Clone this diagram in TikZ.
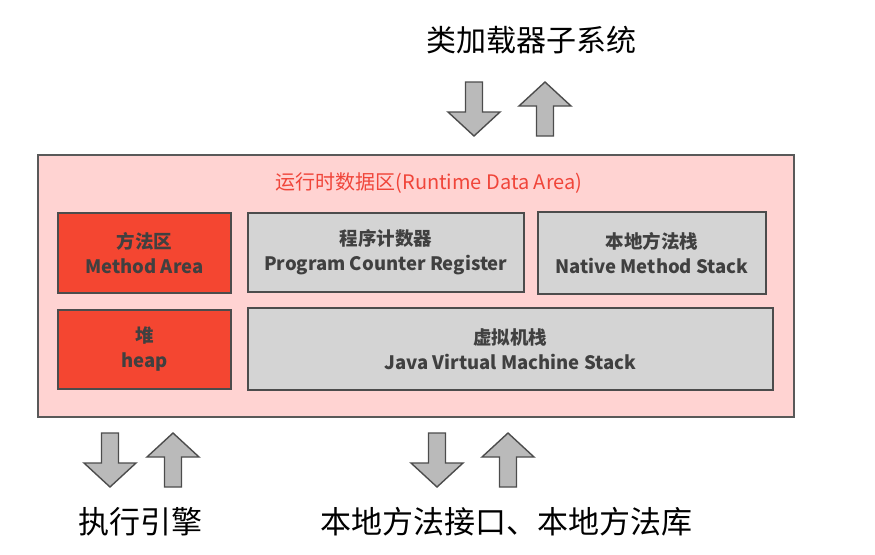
\documentclass[tikz,border=0pt]{standalone}
\usepackage{fontspec}
\setmainfont{Noto Sans CJK SC}
\usetikzlibrary{positioning}
\definecolor{rdapink}{HTML}{FFD3D2}
\definecolor{rdared}{HTML}{F44631}
\definecolor{rdagray}{HTML}{D4D4D4}
\definecolor{rdatitle}{HTML}{F0453A}
\definecolor{rdatext}{HTML}{404040}
\tikzset{
  areabox/.style={draw=black!70, line width=1.6pt, anchor=north west, align=center,
    inner sep=0pt, text=rdatext, font=\fontsize{18.5}{25}\selectfont\bfseries},
  redbox/.style={areabox, fill=rdared},
  graybox/.style={areabox, fill=rdagray},
  bigarrow/.style={draw=black!70, fill=black!27, line width=1.4pt, line join=miter},
  biglabel/.style={font=\fontsize{30}{34}\selectfont, text=black}
}
\begin{document}
\begin{tikzpicture}[x=1pt,y=-1pt]
\useasboundingbox (0,0) rectangle (875,554);
% runtime data area
\node[draw=black!65, line width=1.6pt, fill=rdapink, anchor=north west,
  minimum width=756pt, minimum height=262pt, inner sep=0pt] (rda) at (37,154) {};
\node[text=rdatitle, font=\fontsize{20}{24}\selectfont] (title) at (429,183) {运行时数据区(Runtime Data Area)};
\node[redbox, minimum width=173pt, minimum height=80pt] (method) at (57,212) {方法区\\Method Area};
\node[graybox, minimum width=276pt, minimum height=79pt] (pcr) at (247,212) {程序计数器\\Program Counter Register};
\node[graybox, minimum width=228pt, minimum height=82pt] (native) at (537,211) {本地方法栈\\Native Method Stack};
\node[redbox, minimum width=173pt, minimum height=79pt] (heap) at (57,309) {堆\\heap};
\node[graybox, minimum width=525pt, minimum height=82pt] (jvm) at (247,307) {虚拟机栈\\Java Virtual Machine Stack};
% arrows in and out
\foreach \cx/\cy/\d in {474/109/1, 545/109/-1, 110/460/1, 173/460/-1, 437/460/1, 508/460/-1}
  \draw[bigarrow, shift={(\cx,\cy)}, yscale=\d] (-8.5,-27) -- (8.5,-27) -- (8.5,3) -- (26,3)
    -- (0,27) -- (-26,3) -- (-8.5,3) -- cycle;
% subsystems
\node[biglabel] (loader) at (531,40) {类加载器子系统};
\node[biglabel, font=\fontsize{31}{34}\selectfont] (engine) at (140,522) {执行引擎};
\node[biglabel, font=\fontsize{31}{34}\selectfont] (nativeif) at (506,522) {本地方法接口、本地方法库};
\end{tikzpicture}
\end{document}
